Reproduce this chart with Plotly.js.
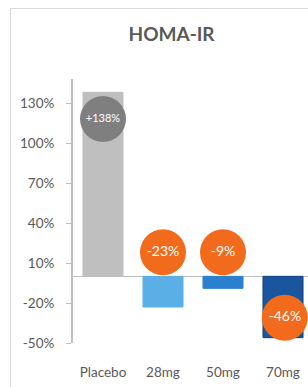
<!DOCTYPE html>
<html><head><meta charset="utf-8">
<script src="https://cdn.plot.ly/plotly-3.0.1.min.js"></script>
<style>
html,body{margin:0;padding:0;background:#fff;overflow:hidden;width:308px;height:387px;}
#frame{position:absolute;left:10px;top:8px;width:400px;height:420px;border:1px solid #d9d9d9;box-sizing:border-box;}
#chart{position:absolute;left:0;top:0;width:308px;height:387px;}
</style></head>
<body>
<div id="frame"></div>
<div id="chart"></div>
<script>
const categories = ["Placebo", "28mg", "50mg", "70mg"];
const values = [138, -23, -9, -46];
const labels = ["+138%", "-23%", "-9%", "-46%"];
const tickVals = [-50, -20, 10, 40, 70, 100, 130];
const tickText = ["-50%", "-20%", "10%", "40%", "70%", "100%", "130%"];

const barColors = ["#bfbfbf", "#5aafe6", "#2a80cf", "#1a56a0"];
const lineColors = ["#bfbfbf", "#5aafe6", "#2a80cf", "#0f3f80"];
const circleColors = ["#7f7f7f", "#f26a1b", "#f26a1b", "#f26a1b"];
// circle placement relative to bar value (style only)
const circleY = values.map((v, i) => i === 0 ? v - 20 : (v > -30 ? 18 : v + 15));
const circleX = categories.map((c, i) => i === 3 ? 3.03 : i);
const fontSizes = [11, 14, 14, 14];

const bars = {
  type: "bar", x: categories.map((c, i) => i), y: values,
  marker: {color: barColors, line: {color: lineColors, width: 1}},
  hoverinfo: "none"
};
const circles = {
  type: "scatter", mode: "markers+text", x: circleX, y: circleY,
  text: labels, textposition: "middle center",
  textfont: {color: "#ffffff", size: fontSizes, family: "Lato, sans-serif"},
  marker: {size: 46, color: circleColors, line: {width: 0}},
  cliponaxis: false, hoverinfo: "none"
};

const layout = {
  width: 308, height: 387,
  margin: {l: 73, r: 0, t: 79, b: 44},
  paper_bgcolor: "rgba(0,0,0,0)", plot_bgcolor: "rgba(0,0,0,0)",
  showlegend: false, bargap: 0.333,
  font: {family: "Lato, sans-serif", color: "#595959"},
  title: {text: "<b>HOMA-IR</b>", x: 0.557, xanchor: "center", y: 0.91, yanchor: "middle",
          font: {size: 19, color: "#595959", family: "Lato, sans-serif"}},
  xaxis: {
    range: [-0.5, -0.5 + 235 / 60], tickvals: [0, 1, 2, 3], ticktext: categories,
    showline: false, showgrid: false, zeroline: false, ticks: "",
    ticklabelstandoff: 19, tickfont: {size: 13.5, color: "#595959"}, fixedrange: true
  },
  yaxis: {
    range: [-50, 148], tickvals: tickVals, ticktext: tickText,
    showline: true, linecolor: "#bfbfbf", linewidth: 2,
    ticks: "outside", ticklen: 5, tickcolor: "#bfbfbf", tickwidth: 1,
    ticklabelstandoff: 9,
    showgrid: false, zeroline: true, zerolinecolor: "#bfbfbf", zerolinewidth: 1.5,
    tickfont: {size: 13.5, color: "#595959"}, fixedrange: true
  }
};
Plotly.newPlot("chart", [bars, circles], layout, {displayModeBar: false, staticPlot: true});
</script>
</body></html>
